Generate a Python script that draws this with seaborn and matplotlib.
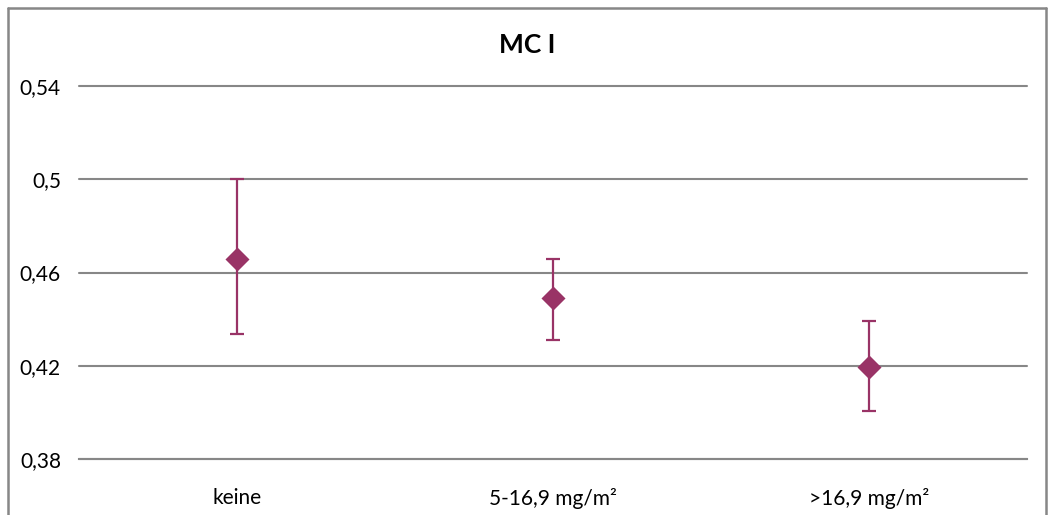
import matplotlib
matplotlib.use("Agg")
import matplotlib.pyplot as plt
from matplotlib.lines import Line2D
from matplotlib.ticker import FuncFormatter
import seaborn as sns
import pandas as pd

# Dose groups, mean values and confidence limits
categories = ["keine", "5-16,9 mg/m²", ">16,9 mg/m²"]
means = [0.466, 0.449, 0.4195]
lower = [0.4335, 0.431, 0.4005]
upper = [0.500, 0.466, 0.439]
y_ticks = [0.38, 0.42, 0.46, 0.50, 0.54]

color = "#993366"
grid_color = "#878787"

sns.set_theme(style="white")
plt.rcParams["font.family"] = ["Lato", "DejaVu Sans"]

df = pd.DataFrame({"Gruppe": categories, "Wert": means,
                   "unten": lower, "oben": upper})

fig = plt.figure(figsize=(10.48, 5.15), dpi=100)
ax = fig.add_axes([79 / 1048, 1 - 459 / 515, (1027 - 79) / 1048, (459 - 86) / 515])

xpos = list(range(len(categories)))
ax.errorbar(xpos, df["Wert"],
            yerr=[df["Wert"] - df["unten"], df["oben"] - df["Wert"]],
            fmt="none", ecolor=color, elinewidth=1.6, capsize=4.7,
            capthick=1.6, zorder=3)
sns.scatterplot(data=df, x="Gruppe", y="Wert", marker="D", s=150,
                color=color, edgecolor=color, linewidth=0, ax=ax, zorder=4)

ax.set_xlim(-0.5, len(categories) - 0.5)
ax.set_ylim(0.38, 0.54)
ax.set_yticks(y_ticks)
ax.yaxis.set_major_formatter(FuncFormatter(lambda v, _: f"{v:.2f}".rstrip("0").replace(".", ",")))
ax.grid(axis="y", color=grid_color, linewidth=1.5)
for gl in ax.get_ygridlines():
    gl.set_clip_on(False)
ax.set_axisbelow(True)
for side in ("top", "right", "left"):
    ax.spines[side].set_visible(False)
ax.spines["bottom"].set_color(grid_color)
ax.spines["bottom"].set_linewidth(1.5)
ax.tick_params(axis="y", length=0, pad=13, labelsize=15, labelcolor="black")
ax.tick_params(axis="x", length=0, pad=21, labelsize=15, labelcolor="black")
ax.set_xlabel("")
ax.set_ylabel("")

fig.text(527 / 1048, 1 - 45 / 515, "MC I", ha="center", va="center",
         fontsize=19, fontweight="bold", color="black")

# Outer chart frame (open at the bottom)
fx0, fx1, fy1 = 7.5 / 1048, 1045.5 / 1048, 1 - 7.5 / 515
for xs, ys in (([fx0, fx0], [0, fy1]), ([fx0, fx1], [fy1, fy1]), ([fx1, fx1], [fy1, 0])):
    fig.add_artist(Line2D(xs, ys, transform=fig.transFigure, color=grid_color, linewidth=1.8))

fig.savefig("out.png", dpi=100)
